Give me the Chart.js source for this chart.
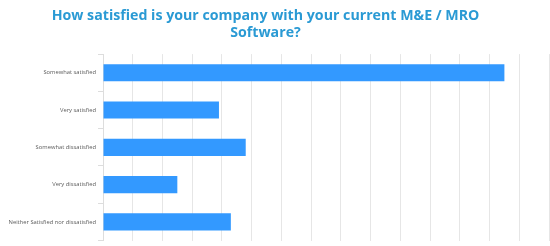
<!DOCTYPE html>
<html>
<head>
<meta charset="utf-8">
<script src="https://cdn.jsdelivr.net/npm/chart.js@4/dist/chart.umd.min.js"></script>
<style>
  html, body { margin: 0; padding: 0; background: #ffffff; }
  #wrap { width: 550px; height: 246px; position: relative; }
</style>
</head>
<body>
<div id="wrap"><canvas id="c"></canvas></div>
<script>
const titleLines = ["How satisfied is your company with your current M&E / MRO", "Software?"];
const categories = [
  "Somewhat satisfied",
  "Very satisfied",
  "Somewhat dissatisfied",
  "Very dissatisfied",
  "Neither Satisfied nor dissatisfied"
];
const responses = [13.5, 3.9, 4.8, 2.5, 4.3];
const axisMax = 15;
const axisStep = 1;

const titleShift = {
  id: 'titleShift',
  afterLayout(chart) {
    const t = chart.titleBlock;
    if (t) { t.right -= 18; t.width = t.right - t.left; }
  }
};

new Chart(document.getElementById('c'), {
  type: 'bar',
  data: {
    labels: categories,
    datasets: [{
      data: responses,
      backgroundColor: '#3399ff',
      borderWidth: 0,
      barPercentage: 0.92,
      categoryPercentage: 0.5
    }]
  },
  plugins: [titleShift],
  options: {
    indexAxis: 'y',
    responsive: true,
    maintainAspectRatio: false,
    animation: false,
    layout: { padding: { left: 0, right: 1, top: 0, bottom: 1 } },
    plugins: {
      legend: { display: false },
      tooltip: { enabled: false },
      title: {
        display: true,
        text: titleLines,
        color: '#2a9ad4',
        font: { family: 'Open Sans', size: 14.2, weight: 'bold', lineHeight: 1.2 },
        padding: { top: 7, bottom: 13 }
      }
    },
    scales: {
      x: {
        min: 0,
        max: axisMax,
        ticks: { display: false, stepSize: axisStep },
        grid: { color: '#e6e6e6', lineWidth: 1, drawTicks: false },
        border: { display: false }
      },
      y: {
        ticks: {
          color: '#5a5a5a',
          font: { family: 'Open Sans', size: 5.8 },
          padding: 2
        },
        grid: { offset: true, drawOnChartArea: false, tickLength: 5, color: '#dddddd' },
        border: { display: true, color: '#dddddd' },
        afterFit(scale) { scale.width = 103; }
      }
    }
  }
});
</script>
</body>
</html>
